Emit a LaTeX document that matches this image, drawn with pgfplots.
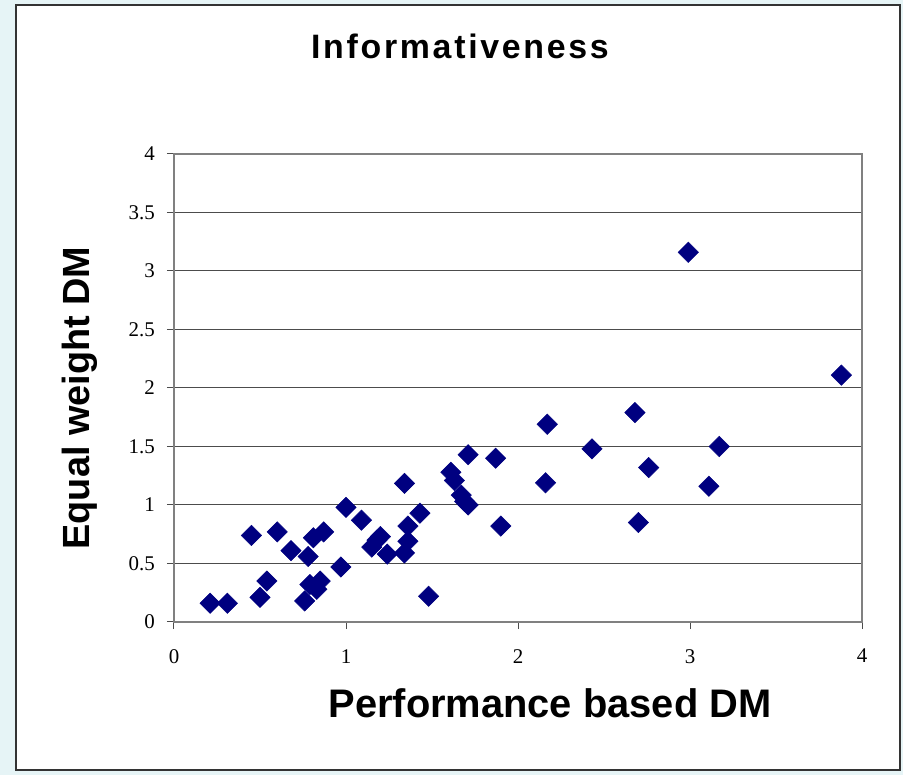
\documentclass[border=0pt]{standalone}
\usepackage{fontspec}
\setmainfont{Liberation Serif}
\newfontfamily\arial{Liberation Sans}
\usepackage{pgfplots}
\pgfplotsset{compat=1.18}
\definecolor{navy}{RGB}{0,0,128}
\definecolor{bgcyan}{RGB}{230,244,246}

\begin{document}
\begin{tikzpicture}[x=1bp,y=1bp]
% slide background and the chart frame
\path[use as bounding box, fill=bgcyan] (-174,-153) rectangle (729,622);
\draw[fill=white, draw=black!80, line width=2bp] (-158,-148) rectangle (726,617);
\begin{axis}[
  at={(0,0)}, anchor=south west, scale only axis,
  width=688bp, height=468bp,
  xmin=0, xmax=4, ymin=0, ymax=4,
  xtick={0,1,2,3,4}, xticklabels={0,1,2,3,4},
  ytick={0,0.5,1,1.5,2,2.5,3,3.5,4},
  yticklabels={0,0.5,1,1.5,2,2.5,3,3.5,4},
  xtick pos=bottom, ytick pos=left,
  tick align=outside, major tick length=7bp,
  tick style={black!70, line width=1bp},
  ticklabel style={font=\fontsize{21}{21}\selectfont, inner sep=0pt},
  xticklabel style={anchor=north, yshift=-20bp},
  yticklabel style={anchor=east, xshift=-12bp},
  ymajorgrids, grid style={black!70, line width=1bp},
  axis line style={black!50, line width=2bp},
]
\addplot[only marks, mark=square*, mark size=7.2bp,
  mark options={rotate=45, fill=navy, draw=navy, line width=0.5bp}]
coordinates {
(0.21,0.16) (0.31,0.16) (0.45,0.74) (0.54,0.35) (0.50,0.21)
(0.60,0.77) (0.68,0.61) (0.76,0.18) (0.79,0.32) (0.78,0.56)
(0.81,0.72) (0.83,0.28) (0.85,0.35) (0.87,0.77) (0.97,0.47)
(1.00,0.98) (1.09,0.87) (1.15,0.64) (1.18,0.70) (1.20,0.73) (1.24,0.58)
(1.34,1.185) (1.34,0.59) (1.36,0.69) (1.36,0.82) (1.43,0.93)
(1.48,0.22) (1.61,1.28) (1.63,1.21) (1.67,1.085) (1.69,1.03)
(1.71,1.00) (1.71,1.43) (1.87,1.40) (1.90,0.82) (2.16,1.19)
(2.17,1.69) (2.43,1.48) (2.68,1.79) (2.70,0.85) (2.76,1.32)
(2.99,3.16) (3.11,1.16) (3.17,1.50) (3.88,2.11)
};
\end{axis}
\node[anchor=base, font=\arial\bfseries\fontsize{34}{34}\selectfont\addfontfeature{LetterSpace=8}]
  at (286,563) {Informativeness};
\node[anchor=base, font=\arial\bfseries\fontsize{40}{40}\selectfont]
  at (376,-96) {Performance based DM};
\node[anchor=base, rotate=90, font=\arial\bfseries\fontsize{38}{38}\selectfont]
  at (-84,224) {Equal weight DM};
\end{tikzpicture}
\end{document}
